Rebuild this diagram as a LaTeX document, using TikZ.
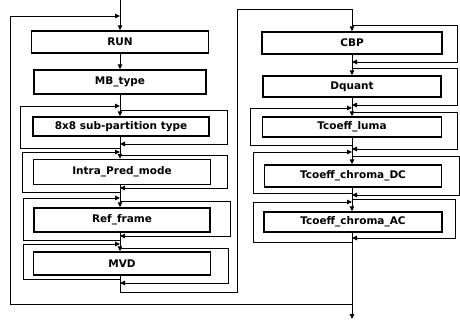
\documentclass[tikz,border=0pt]{standalone}
\usepackage{fontspec}
\setmainfont{DejaVu Sans}
\usetikzlibrary{arrows.meta, positioning}

\tikzset{
  syntaxbox/.style={draw, line width=1.4pt, inner sep=0pt, minimum height=22pt,
    font=\fontsize{10.5}{12}\selectfont\bfseries},
  flow/.style={line width=1pt, -{Triangle[length=5pt,width=4.5pt]}},
}

\begin{document}
\begin{tikzpicture}[x=1pt, y=-1pt]
    \useasboundingbox (0,0) rectangle (460,324);

    % Left column: macroblock header
    \node[syntaxbox, minimum width=177pt] (run)      at (120,42)    {RUN};
    \node[syntaxbox, minimum width=172pt, minimum height=24pt] (mbtype) at (120,82) {MB\_type};
    \node[syntaxbox, minimum width=176pt, minimum height=19pt] (subpart) at (121,126.5) {8x8 sub-partition type};
    \node[syntaxbox, minimum width=177pt, minimum height=25pt] (intra) at (122,172) {Intra\_Pred\_mode};
    \node[syntaxbox, minimum width=176pt, minimum height=24pt] (refframe) at (122,220) {Ref\_frame};
    \node[syntaxbox, minimum width=177pt, minimum height=23pt] (mvd) at (122,263.5) {MVD};

    % Right column: residual data
    \node[syntaxbox, minimum width=180pt] (cbp)      at (352,43)    {CBP};
    \node[syntaxbox, minimum width=178pt, minimum height=21pt] (dquant) at (352,86.5) {Dquant};
    \node[syntaxbox, minimum width=179pt, minimum height=20pt] (luma) at (352,127) {Tcoeff\_luma};
    \node[syntaxbox, minimum width=177pt] (chromadc) at (353,176) {Tcoeff\_chroma\_DC};
    \node[syntaxbox, minimum width=178pt, minimum height=20pt] (chromaac) at (353,222) {Tcoeff\_chroma\_AC};

    \coordinate (start)  at (120,0);
    \coordinate (lexit)  at (237,292);
    \coordinate (rentry) at (237,9);
    \coordinate (finish) at (352,319);
    \coordinate (back)   at (10,304);

    % Main flow
    \draw[flow] (start) -- (run.north);
    \draw[flow] (run.south -| start) -- (mbtype.north -| start);
    \draw[flow] (mbtype.south -| start) -- (subpart.north -| start);
    \draw[flow] (subpart.south -| start) -- (intra.north -| start);
    \draw[flow] (intra.south -| start) -- (refframe.north -| start);
    \draw[flow] (refframe.south -| start) -- (mvd.north -| start);
    \draw[line width=1pt] (mvd.south -| start) |- (lexit) |- (rentry -| finish);
    \draw[flow] (rentry -| finish) -- (cbp.north -| finish);
    \draw[flow] (cbp.south -| finish) -- (dquant.north -| finish);
    \draw[flow] (dquant.south -| finish) -- (luma.north -| finish);
    \draw[flow] (luma.south -| finish) -- (chromadc.north -| finish);
    \draw[flow] (chromadc.south -| finish) -- (chromaac.north -| finish);
    \draw[flow] (chromaac.south -| finish) -- (finish);

    % Next macroblock
    \draw[flow] (finish |- back) -| (10,16) -- (start |- 0,16);

    % Repeat loops (left side)
    \foreach \n/\c/\x/\t/\b in {subpart/start/20/106/148, intra/start/22/152/192,
        refframe/start/23/198/240, mvd/start/23/244/279,
        luma/finish/250/108/145, chromadc/finish/253/152/193, chromaac/finish/253/202/242}{
      \draw[flow] (\c |- 0,\b) -| (\x,\t) -- (\c |- 0,\t);
    }

    % Skip paths (right side)
    \foreach \n/\c/\x/\t/\b in {subpart/start/227/110/144, intra/start/227/155/188,
        refframe/start/230/201/236, mvd/start/228/248/283,
        cbp/finish/457/25/62, dquant/finish/457/68/105, luma/finish/457/112/149,
        chromadc/finish/459/156/195, chromaac/finish/455/199/238}{
      \draw[flow] (\c |- 0,\t) -| (\x,\b) -- (\c |- 0,\b);
    }
\end{tikzpicture}
\end{document}
